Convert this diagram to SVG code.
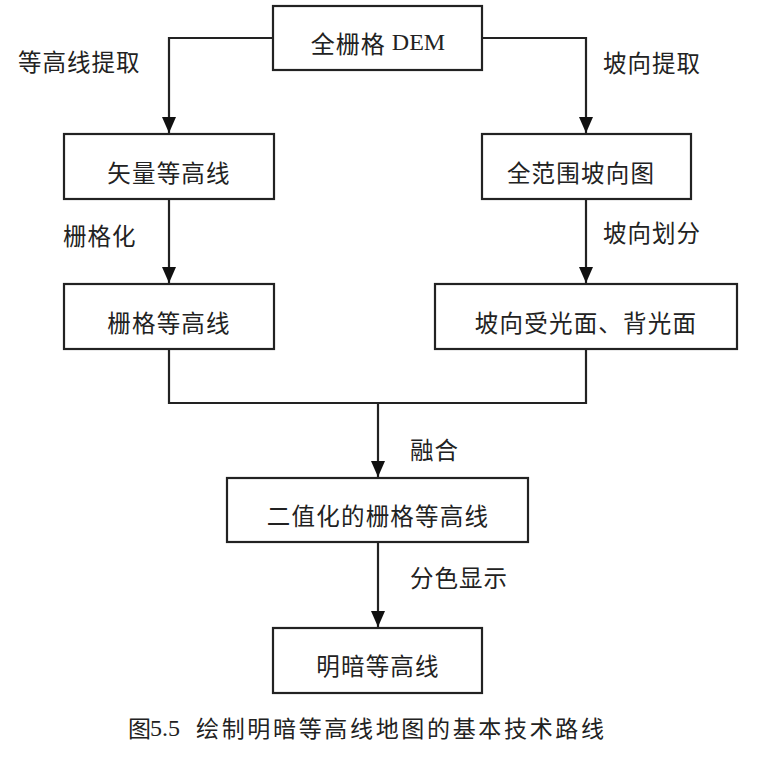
<svg xmlns="http://www.w3.org/2000/svg" width="759" height="775" viewBox="0 0 759 775">
<defs>
<marker id="ah" viewBox="0 0 16 14" refX="16" refY="7" markerWidth="16" markerHeight="14" markerUnits="userSpaceOnUse" orient="auto">
<path d="M0,0 L16,7 L0,14 Z" fill="#111"/>
</marker>
<style>
.box{fill:#fff;stroke:#222;stroke-width:2.2}
.t{font-family:"Noto Sans CJK SC","Noto Sans",sans-serif;font-size:23.5px;fill:#222;text-anchor:middle;dominant-baseline:central;letter-spacing:1.2px}
.l{font-family:"Noto Sans CJK SC","Noto Sans",sans-serif;font-size:23.5px;fill:#222;dominant-baseline:central;letter-spacing:1px}
.c{fill:none;stroke:#222;stroke-width:2.2}
.cap{font-family:"Noto Sans CJK SC",sans-serif;font-size:23px;fill:#222;dominant-baseline:central}
.num{font-family:"Liberation Serif",serif;font-size:24px;fill:#222;dominant-baseline:central}
</style>
</defs>
<rect width="759" height="775" fill="#fff"/>
<g id="connectors">
<path class="c" d="M273,38 H169 V133" marker-end="url(#ah)"/>
<path class="c" d="M482,38 H586 V133" marker-end="url(#ah)"/>
<path class="c" d="M169,199 V283" marker-end="url(#ah)"/>
<path class="c" d="M586,199 V283" marker-end="url(#ah)"/>
<path class="c" d="M169,349 V403 H586 V349"/>
<path class="c" d="M378,403 V477" marker-end="url(#ah)"/>
<path class="c" d="M378,542 V627" marker-end="url(#ah)"/>
</g>
<g id="labels">
<text class="l" x="18" y="61">等高线提取</text>
<text class="l" x="603" y="62">坡向提取</text>
<text class="l" x="63" y="235">栅格化</text>
<text class="l" x="603" y="232">坡向划分</text>
<text class="l" x="410" y="449">融合</text>
<text class="l" x="410" y="577">分色显示</text>
</g>
<g id="n1">
<rect class="box" x="273" y="6" width="209" height="64"/>
<text class="t" x="378" y="42" style="font-size:24px;letter-spacing:1px">全栅格<tspan style="font-family:'Liberation Serif',serif;letter-spacing:0"> DEM</tspan></text>
</g>
<g id="n2">
<rect class="box" x="64" y="134" width="210" height="65"/>
<text class="t" x="169" y="172">矢量等高线</text>
</g>
<g id="n3">
<rect class="box" x="482" y="134" width="209" height="65"/>
<text class="t" x="581" y="172">全范围坡向图</text>
</g>
<g id="n4">
<rect class="box" x="64" y="284" width="210" height="65"/>
<text class="t" x="169" y="322">栅格等高线</text>
</g>
<g id="n5">
<rect class="box" x="435" y="284" width="302" height="65"/>
<text class="t" x="586" y="322">坡向受光面、背光面</text>
</g>
<g id="n6">
<rect class="box" x="227" y="478" width="301" height="64"/>
<text class="t" x="378" y="515">二值化的栅格等高线</text>
</g>
<g id="n7">
<rect class="box" x="273" y="628" width="209" height="65"/>
<text class="t" x="378" y="665">明暗等高线</text>
</g>
<g id="caption">
<text class="cap" x="128" y="727">图</text>
<text class="num" x="150" y="728">5.5</text>
<text class="cap" x="196" y="727" textLength="408" lengthAdjust="spacing">绘制明暗等高线地图的基本技术路线</text>
</g>
</svg>
